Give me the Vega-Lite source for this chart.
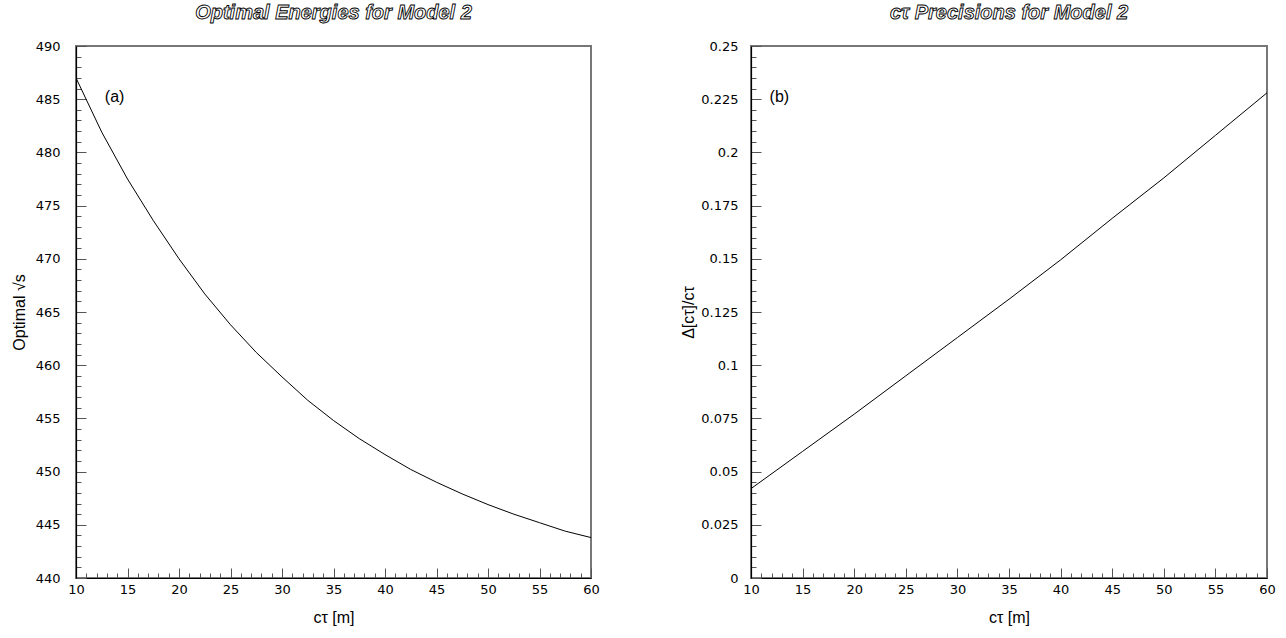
{
  "$schema": "https://vega.github.io/schema/vega-lite/v6.json",
  "background": "white",
  "padding": {"left": 10, "top": 2, "right": 5, "bottom": 5},
  "spacing": 78,
  "config": {
    "view": {"stroke": "#777777", "strokeWidth": 2},
    "font": "Liberation Sans",
    "axis": {
      "grid": false,
      "domainColor": "black",
      "domainWidth": 1.2,
      "tickColor": "#555555",
      "tickWidth": 1,
      "tickCount": 100,
      "labelFont": "DejaVu Sans",
      "labelFontSize": 13,
      "labelColor": "black",
      "labelOverlap": false,
      "labelFlush": false,
      "titleFont": "Liberation Sans",
      "titleFontSize": 16,
      "titleFontWeight": "normal",
      "titleColor": "black"
    },
    "title": {
      "font": "Liberation Sans",
      "fontSize": 20,
      "fontStyle": "italic",
      "fontWeight": "bold",
      "color": "black",
      "anchor": "middle",
      "offset": 17
    }
  },
  "datasets": {
    "energy": [
      {"ct": 10, "v": 487.0},
      {"ct": 12.5, "v": 481.9},
      {"ct": 15, "v": 477.5},
      {"ct": 17.5, "v": 473.6},
      {"ct": 20, "v": 470.0},
      {"ct": 22.5, "v": 466.7},
      {"ct": 25, "v": 463.8},
      {"ct": 27.5, "v": 461.2},
      {"ct": 30, "v": 458.9},
      {"ct": 32.5, "v": 456.7},
      {"ct": 35, "v": 454.8},
      {"ct": 37.5, "v": 453.1},
      {"ct": 40, "v": 451.6},
      {"ct": 42.5, "v": 450.2},
      {"ct": 45, "v": 449.0},
      {"ct": 47.5, "v": 447.9},
      {"ct": 50, "v": 446.9},
      {"ct": 52.5, "v": 446.0},
      {"ct": 55, "v": 445.2},
      {"ct": 57.5, "v": 444.4},
      {"ct": 60, "v": 443.8}
    ],
    "precision": [
      {"ct": 10, "v": 0.042},
      {"ct": 15, "v": 0.0595},
      {"ct": 20, "v": 0.077},
      {"ct": 25, "v": 0.095},
      {"ct": 30, "v": 0.113},
      {"ct": 35, "v": 0.131},
      {"ct": 40, "v": 0.1495},
      {"ct": 45, "v": 0.169},
      {"ct": 50, "v": 0.188},
      {"ct": 55, "v": 0.208},
      {"ct": 60, "v": 0.228}
    ],
    "labelA": [{"ct": 12.8, "v": 485.2, "t": "(a)"}],
    "labelB": [{"ct": 11.8, "v": 0.226, "t": "(b)"}]
  },
  "hconcat": [
    {
      "width": 515,
      "height": 532,
      "title": {"text": "Optimal Energies for Model 2", "encoding": {"fill": {"value": "white"}, "stroke": {"value": "black"}, "strokeWidth": {"value": 0.9}}},
      "layer": [
        {
          "data": {"name": "energy"},
          "mark": {"type": "line", "color": "black", "strokeWidth": 1, "clip": true},
          "encoding": {
            "x": {"field": "ct", "type": "quantitative", "title": "cτ [m]",
              "scale": {"domain": [10, 60], "nice": false, "zero": false},
              "axis": {
                "values": [10,11,12,13,14,15,16,17,18,19,20,21,22,23,24,25,26,27,28,29,30,31,32,33,34,35,36,37,38,39,40,41,42,43,44,45,46,47,48,49,50,51,52,53,54,55,56,57,58,59,60],
                "labelExpr": "datum.value % 5 === 0 ? format(datum.value, 'd') : ''",
                "tickSize": {"condition": {"test": "datum.value % 5 === 0", "value": -10}, "value": -5},
                "labelPadding": 15,
                "titlePadding": 8
              }
            },
            "y": {"field": "v", "type": "quantitative", "title": "Optimal √s",
              "scale": {"domain": [440, 490], "nice": false, "zero": false},
              "axis": {
                "values": [440,441,442,443,444,445,446,447,448,449,450,451,452,453,454,455,456,457,458,459,460,461,462,463,464,465,466,467,468,469,470,471,472,473,474,475,476,477,478,479,480,481,482,483,484,485,486,487,488,489,490],
                "labelExpr": "datum.value % 5 === 0 ? format(datum.value, 'd') : ''",
                "tickSize": {"condition": {"test": "datum.value % 5 === 0", "value": -10}, "value": -5},
                "labelPadding": 26,
                "titlePadding": 8
              }
            }
          }
        },
        {
          "data": {"name": "labelA"},
          "mark": {"type": "text", "align": "left", "baseline": "middle", "fontSize": 16, "font": "Liberation Sans", "color": "black"},
          "encoding": {
            "x": {"field": "ct", "type": "quantitative"},
            "y": {"field": "v", "type": "quantitative"},
            "text": {"field": "t"}
          }
        }
      ]
    },
    {
      "width": 516,
      "height": 532,
      "title": {"text": "cτ Precisions for Model 2", "encoding": {"fill": {"value": "white"}, "stroke": {"value": "black"}, "strokeWidth": {"value": 0.9}}},
      "layer": [
        {
          "data": {"name": "precision"},
          "mark": {"type": "line", "color": "black", "strokeWidth": 1, "clip": true},
          "encoding": {
            "x": {"field": "ct", "type": "quantitative", "title": "cτ [m]",
              "scale": {"domain": [10, 60], "nice": false, "zero": false},
              "axis": {
                "values": [10,11,12,13,14,15,16,17,18,19,20,21,22,23,24,25,26,27,28,29,30,31,32,33,34,35,36,37,38,39,40,41,42,43,44,45,46,47,48,49,50,51,52,53,54,55,56,57,58,59,60],
                "labelExpr": "datum.value % 5 === 0 ? format(datum.value, 'd') : ''",
                "tickSize": {"condition": {"test": "datum.value % 5 === 0", "value": -10}, "value": -5},
                "labelPadding": 15,
                "titlePadding": 8
              }
            },
            "y": {"field": "v", "type": "quantitative", "title": "Δ[cτ]/cτ",
              "scale": {"domain": [0, 0.25], "nice": false, "zero": false},
              "axis": {
                "values": [0,0.005,0.01,0.015,0.02,0.025,0.03,0.035,0.04,0.045,0.05,0.055,0.06,0.065,0.07,0.075,0.08,0.085,0.09,0.095,0.1,0.105,0.11,0.115,0.12,0.125,0.13,0.135,0.14,0.145,0.15,0.155,0.16,0.165,0.17,0.175,0.18,0.185,0.19,0.195,0.2,0.205,0.21,0.215,0.22,0.225,0.23,0.235,0.24,0.245,0.25],
                "labelExpr": "round(datum.value * 1000) % 25 === 0 ? format(datum.value, '~g') : ''",
                "tickSize": {"condition": {"test": "round(datum.value * 1000) % 25 === 0", "value": -10}, "value": -5},
                "labelPadding": 23,
                "titlePadding": 4
              }
            }
          }
        },
        {
          "data": {"name": "labelB"},
          "mark": {"type": "text", "align": "left", "baseline": "middle", "fontSize": 16, "font": "Liberation Sans", "color": "black"},
          "encoding": {
            "x": {"field": "ct", "type": "quantitative"},
            "y": {"field": "v", "type": "quantitative"},
            "text": {"field": "t"}
          }
        }
      ]
    }
  ]
}
